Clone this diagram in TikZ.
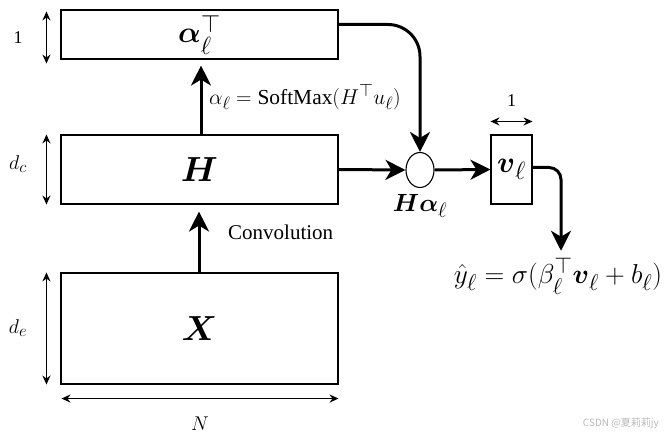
\documentclass[tikz,border=0pt]{standalone}
\usepackage{amsmath}
\usepackage{fontspec}
\setmainfont{Liberation Serif}
\newfontfamily\cjkwm{Noto Sans CJK SC}
\usetikzlibrary{arrows.meta,shapes.geometric,calc,positioning}
\newcommand{\scaledmath}[2]{\scalebox{#1}{\fontsize{24.88}{26}\selectfont$#2$}}
\tikzset{
  fs/.style={font=\fontsize{#1}{#1}\selectfont},
  box/.style={draw, line width=1.1pt, inner sep=0pt, fill=white},
  flow/.style={line width=3pt, -{Stealth[length=20pt,width=20pt,inset=6pt]}},
  dimarrow/.style={line width=1.1pt, {Stealth[length=9pt,width=8pt]}-{Stealth[length=9pt,width=8pt]}},
  lbl/.style={inner sep=1pt},
}
\begin{document}
\begin{tikzpicture}[x=1pt,y=-1pt]
\useasboundingbox (0,0) rectangle (666,438);
% boxes
\node[box, minimum width=277pt, minimum height=49pt] (alpha) at (199.5,34.5) {\scaledmath{1.2}{\boldsymbol{\alpha}_{\ell}^{\top}}};
\node[box, minimum width=277pt, minimum height=69pt] (H) at (199.5,169.5) {\scaledmath{1.4}{\boldsymbol{H}}};
\node[box, minimum width=277pt, minimum height=111pt] (X) at (199.5,328.5) {\scaledmath{1.4}{\boldsymbol{X}}};
\node[box, minimum width=41pt, minimum height=69pt] (v) at (511.5,169.5) {\scaledmath{1.2}{\boldsymbol{v}_{\ell}}};
\node[draw, ellipse, line width=1.1pt, minimum width=28pt, minimum height=35pt, inner sep=0pt] (circ) at (420,170) {};
% labels
\node[lbl, below=5pt of circ] (halpha) {\scaledmath{1.0}{\boldsymbol{H}\boldsymbol{\alpha}_{\ell}}};
\node[lbl, anchor=west] (softmax) at (208,97) {\scaledmath{0.86}{\alpha_{\ell}=\mathrm{SoftMax}(H^{\top}u_{\ell})}};
\node[lbl, fs=21, anchor=west] (conv) at (227,232) {Convolution};
\node[lbl] (yhat) at (558,276) {\scaledmath{1.1}{\hat{y}_{\ell}=\sigma(\beta_{\ell}^{\top}\boldsymbol{v}_{\ell}+b_{\ell})}};
% dimension arrows
\draw[dimarrow] ([xshift=-14pt,yshift=-2pt]alpha.north west) -- ([xshift=-14pt,yshift=-4pt]alpha.south west);
\draw[dimarrow] ([xshift=-14pt]H.north west) -- ([xshift=-14pt]H.south west);
\draw[dimarrow] ([xshift=-14pt]X.north west) -- ([xshift=-14pt]X.south west);
\draw[dimarrow] ([xshift=1pt,yshift=-14pt]X.south west) -- ([yshift=-14pt]X.south east);
\draw[dimarrow] ([yshift=13pt]v.north west) -- ([yshift=13pt]v.north east);
\node[lbl, fs=18] (one) at (18,38) {1};
\node[lbl] (dc) at (18,164) {\scaledmath{0.8}{d_c}};
\node[lbl] (de) at (18,328) {\scaledmath{0.8}{d_e}};
\node[lbl] (N) at (200,424) {\scaledmath{0.8}{N}};
\node[lbl, fs=18] (onev) at (511.5,101) {1};
% flow arrows
\draw[flow, shorten >=6pt] ([xshift=1.5pt]H.north) -- ([xshift=1.5pt]alpha.south);
\draw[flow, shorten >=7pt] ([xshift=-0.5pt]X.north) -- ([xshift=-0.5pt]H.south);
\draw[flow] (H.east) -- (circ.west);
\draw[flow] (circ.east) -- (v.west);
\draw[flow, rounded corners=32pt] ([yshift=10pt]alpha.east) -| (circ.north);
\draw[flow, rounded corners=12pt, shorten >=6pt] ([yshift=2pt]v.east) -| ([xshift=3pt]yhat.north);
% watermark
\node[lbl, text=gray!55, font=\cjkwm\fontsize{10}{10}\selectfont, anchor=east] (wm) at (660,424) {CSDN @夏莉莉jy};
\end{tikzpicture}
\end{document}
